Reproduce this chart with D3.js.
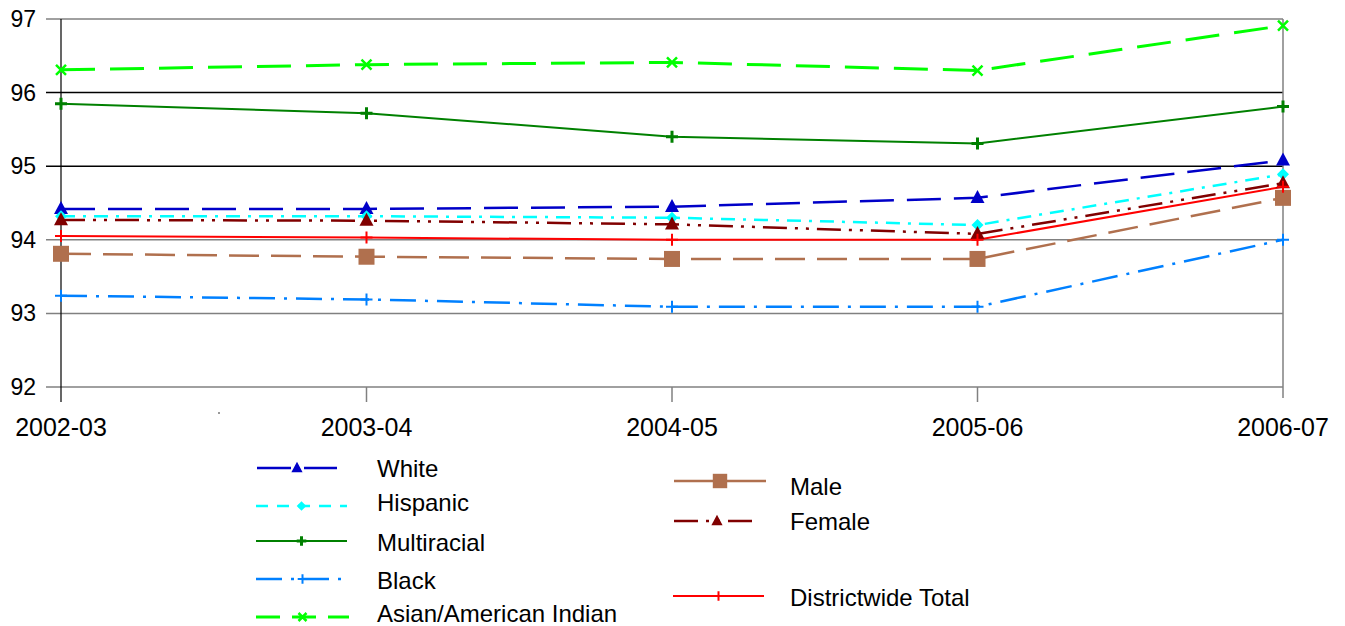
<!DOCTYPE html>
<html><head><meta charset="utf-8">
<script src="https://cdn.jsdelivr.net/npm/d3@7"></script>
<style>body{margin:0;background:#fff}svg{display:block}text{font-family:"Liberation Sans",Arial,sans-serif;fill:#000}</style>
</head><body><svg id="c" width="1345" height="626"></svg>
<script>
const categories = ["2002-03","2003-04","2004-05","2005-06","2006-07"];
const yTicks = [92,93,94,95,96,97];
const white = [94.42,94.42,94.45,94.57,95.08];
const hispanic = [94.32,94.32,94.30,94.20,94.89];
const multiracial = [95.85,95.72,95.40,95.31,95.81];
const black = [93.24,93.19,93.09,93.09,94.00];
const asian = [96.31,96.38,96.41,96.30,96.91];
const male = [93.81,93.77,93.74,93.74,94.57];
const female = [94.27,94.26,94.21,94.08,94.77];
const total = [94.05,94.03,94.00,94.00,94.72];
const seriesNames = ["White","Hispanic","Multiracial","Black","Asian/American Indian","Male","Female","Districtwide Total"];

const series = [
 {values:white, color:"#0000C8", dash:"34,13", ldash:"34,13", w:2.5, marker:"tri", col:0, ly:468, ty:468, x0:257, x1:337},
 {values:hispanic, color:"#00FFFF", dash:"14,8,3,8", ldash:"12,9", w:2.5, marker:"diamond", col:0, ly:506, ty:502, x0:256, x1:347},
 {values:multiracial, color:"#008000", dash:null, ldash:null, w:2, marker:"plusB", col:0, ly:541, ty:542, x0:256, x1:347},
 {values:black, color:"#0080FF", dash:"26,9,3,9", ldash:"26,9,3,9", w:2.5, marker:"plus", col:0, ly:579, ty:580, x0:256, x1:349},
 {values:asian, color:"#00FF00", dash:"34,15", ldash:"24,12", w:3, marker:"x", col:0, ly:617, ty:613.5, x0:256, x1:349},
 {values:male, color:"#B0704E", dash:"30,12", ldash:null, w:2.5, marker:"square", col:1, ly:481, ty:486, x0:674, x1:766},
 {values:female, color:"#800000", dash:"24,8,3,8,3,8", ldash:"24,8,3,8,3,8", w:2.5, marker:"tri", col:1, ly:521, ty:521, x0:674, x1:760},
 {values:total, color:"#FF0000", dash:null, ldash:null, w:2, marker:"plus", col:1, ly:596, ty:597, x0:673, x1:764}
];
series.forEach((s,i)=>s.name=seriesNames[i]);

const svg = d3.select("#c");
const x = d3.scalePoint().domain(categories).range([61,1283]);
const y = d3.scaleLinear().domain([92,97]).range([387,19]);

svg.append("g").selectAll("line").data(yTicks).join("line")
 .attr("x1",46).attr("x2",1283).attr("y1",d=>y(d)).attr("y2",d=>y(d))
 .attr("stroke",d=>(d===95||d===96)?"#000":"#808080").attr("stroke-width",1.5);
svg.append("line").attr("x1",1283).attr("x2",1283).attr("y1",y(97)).attr("y2",398).attr("stroke","#808080").attr("stroke-width",1.5);
svg.append("g").selectAll("line").data(categories.slice(1,4)).join("line")
 .attr("x1",d=>x(d)).attr("x2",d=>x(d)).attr("y1",y(92)).attr("y2",402).attr("stroke","#808080").attr("stroke-width",1.5);
svg.append("line").attr("x1",61).attr("x2",61).attr("y1",y(97)).attr("y2",402).attr("stroke","#000").attr("stroke-width",1.2);
svg.append("rect").attr("x",218).attr("y",412).attr("width",2).attr("height",2).attr("fill","#999");

svg.append("g").selectAll("text").data(yTicks).join("text")
 .attr("x",36).attr("y",d=>y(d)+8).attr("text-anchor","end").attr("font-size",23).text(d=>d);
svg.append("g").selectAll("text").data(categories).join("text")
 .attr("x",d=>x(d)).attr("y",436).attr("text-anchor","middle").attr("font-size",25).text(d=>d);

function drawMarker(g, type, cx, cy, color, scale){
  const s = scale||1;
  if(type==="tri"){
    const h=13*s, b=7*s;
    g.append("path").attr("d",`M${cx},${cy-h*0.6}L${cx+b},${cy+h*0.4}L${cx-b},${cy+h*0.4}Z`).attr("fill",color);
  } else if(type==="diamond"){
    const r=6*s;
    g.append("path").attr("d",`M${cx},${cy-r}L${cx+r},${cy}L${cx},${cy+r}L${cx-r},${cy}Z`).attr("fill",color);
  } else if(type==="square"){
    const r=8*s;
    g.append("rect").attr("x",cx-r).attr("y",cy-r).attr("width",2*r).attr("height",2*r).attr("fill",color);
  } else if(type==="plus"||type==="plusB"){
    const r=6*s, w=type==="plusB"?3:2;
    g.append("path").attr("d",`M${cx-r},${cy}H${cx+r}M${cx},${cy-r}V${cy+r}`).attr("stroke",color).attr("stroke-width",w).attr("fill","none");
  } else if(type==="x"){
    const r=5*s;
    g.append("path").attr("d",`M${cx-r},${cy-r}L${cx+r},${cy+r}M${cx+r},${cy-r}L${cx-r},${cy+r}`).attr("stroke",color).attr("stroke-width",2.5).attr("fill","none");
  }
}

const line = d3.line().x((d,i)=>x(categories[i])).y(d=>y(d));
const plot = svg.append("g");
series.forEach(s=>{
  plot.append("path").datum(s.values).attr("d",line).attr("fill","none")
   .attr("stroke",s.color).attr("stroke-width",s.w).attr("stroke-dasharray",s.dash);
});
series.forEach(s=>{
  s.values.forEach((v,i)=>drawMarker(plot,s.marker,x(categories[i]),y(v),s.color,1));
});

const leg = svg.append("g");
series.forEach(s=>{
  const tx = s.col===0?377:790;
  leg.append("line").attr("x1",s.x0).attr("x2",s.x1).attr("y1",s.ly).attr("y2",s.ly)
   .attr("stroke",s.color).attr("stroke-width",s.w).attr("stroke-dasharray",s.ldash);
  drawMarker(leg,s.marker,(s.x0+s.x1)/2,s.ly,s.color,s.marker==="square"?0.9:0.8);
  leg.append("text").attr("x",tx).attr("y",s.ty+8.5).attr("font-size",24).text(s.name);
});
</script></body></html>
